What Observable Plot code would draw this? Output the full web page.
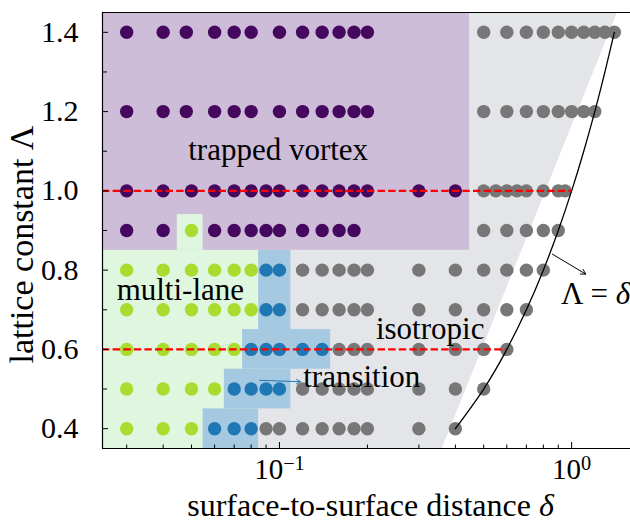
<!DOCTYPE html>
<html><head><meta charset="utf-8">
<script src="https://cdn.jsdelivr.net/npm/d3@7"></script>
<script src="https://cdn.jsdelivr.net/npm/@observablehq/plot@0.6"></script>
<style>
body{margin:0;background:#fff;}
#chart svg{display:block;}
</style>
</head><body><div id="chart"></div>
<script>
const X_MIN = 0.0248, X_MAX = 1.59, Y_MIN = 0.35, Y_MAX = 1.45;

// phase points: [lattice constant Λ, list of δ values]
const vortexRows = [
  [1.4, [0.03,0.04,0.048,0.06,0.07,0.08,0.1,0.12,0.14,0.16,0.18,0.2]],
  [1.2, [0.03,0.04,0.048,0.06,0.07,0.08,0.1,0.12,0.14,0.16,0.18,0.2]],
  [1.0, [0.03,0.04,0.05,0.06,0.07,0.08,0.09,0.1,0.12,0.14,0.16,0.18,0.2,0.3,0.4]],
  [0.9, [0.03,0.04,0.06,0.07,0.08,0.09,0.1,0.12,0.14,0.16,0.18]]
];
const multiLaneRows = [
  [0.9, [0.05]],
  [0.8, [0.03,0.04,0.05,0.06,0.07,0.08]],
  [0.7, [0.03,0.04,0.05,0.06,0.07,0.08]],
  [0.6, [0.03,0.04,0.05,0.06,0.07]],
  [0.5, [0.03,0.04,0.05,0.06]],
  [0.4, [0.03,0.04,0.05]]
];
const transitionRows = [
  [0.8, [0.09,0.1]],
  [0.7, [0.09,0.1]],
  [0.6, [0.08,0.09,0.1,0.12,0.14]],
  [0.5, [0.07,0.08,0.09,0.1]],
  [0.4, [0.06,0.07,0.08]]
];
const isotropicRows = [
  [1.4, [0.5,0.6,0.7,0.8,0.9,1.0,1.1,1.2,1.3,1.4]],
  [1.2, [0.5,0.6,0.7,0.8,0.9,1.0,1.1,1.2]],
  [1.0, [0.5,0.55,0.6,0.65,0.7,0.8,0.9,0.95]],
  [0.9, [0.5,0.6,0.7,0.8,0.9]],
  [0.8, [0.12,0.14,0.16,0.18,0.2,0.3,0.4,0.5,0.6,0.7,0.8]],
  [0.7, [0.12,0.14,0.16,0.18,0.2,0.3,0.4,0.5,0.6,0.7]],
  [0.6, [0.16,0.18,0.2,0.3,0.4,0.5,0.6]],
  [0.5, [0.12,0.14,0.16,0.18,0.2,0.3,0.4,0.5]],
  [0.4, [0.09,0.1,0.12,0.14,0.16,0.18,0.2,0.3,0.4]]
];

// shaded phase regions (δ range, Λ range)
const vortexRegion = [{x1: X_MIN, x2: 0.447, y1: 0.85, y2: Y_MAX}];
const multiLaneRegion = [
  {x1: X_MIN, x2: 0.0849, y1: Y_MIN, y2: 0.85},
  {x1: 0.0447, x2: 0.0548, y1: 0.85, y2: 0.94}
];
const transitionRegion = [
  {x1: 0.0849, x2: 0.1095, y1: 0.65, y2: 0.85},
  {x1: 0.0748, x2: 0.1497, y1: 0.55, y2: 0.65},
  {x1: 0.0648, x2: 0.1095, y1: 0.45, y2: 0.55},
  {x1: 0.0548, x2: 0.0849, y1: Y_MIN, y2: 0.45}
];
const isotropicEdge = [{y: Y_MIN, x: 0.361}, {y: Y_MAX, x: 1.437}];

// Λ = δ line and dashed reference levels
const diagonal = [0.4,0.5,0.6,0.7,0.8,0.9,1.0,1.1,1.2,1.3,1.4];
const dashedLevels = [1.0, 0.6];

// ticks
const xMajor = [0.1, 1];
const xMinor = [0.03,0.04,0.05,0.06,0.07,0.08,0.09,0.2,0.3,0.4,0.5,0.6,0.7,0.8,0.9];
const yMajor = [0.4,0.6,0.8,1.0,1.2,1.4];
const yMinor = [0.5,0.7,0.9,1.1,1.3];

// annotations
const centeredLabels = [
  {text: "trapped vortex", x: 0.099, y: 1.104},
  {text: "multi-lane", x: 0.0458, y: 0.750},
  {text: "isotropic", x: 0.328, y: 0.652},
  {text: "Λ = δ", x: 1.208, y: 0.740}
];
const leftLabels = [
  {text: "transition", x: 0.1206, y: 0.530}
];
const blackArrow = [{x1: 0.859, y1: 0.8405, x2: 1.117, y2: 0.79}];
const blueArrow = [{x1: 0.0856, y1: 0.522, x2: 0.118, y2: 0.5185}];

const COLORS = {
  vortexFill: "#cebdd8", multiFill: "#dff6df", transFill: "#a6c9e2", isoFill: "#e4e5e9",
  vortex: "#46085f", multi: "#a8dc2e", trans: "#1f77b4", iso: "#777777"
};

const toPts = rows => rows.flatMap(([L, ds]) => ds.map(d => ({d, L})));

const FS = 30, AFS = 31, LFS = 33;
const chart = Plot.plot({
  width: 630, height: 523,
  marginTop: 12, marginLeft: 102, marginRight: 0, marginBottom: 75,
  x: {type: "log", domain: [X_MIN, X_MAX]},
  y: {domain: [Y_MIN, Y_MAX]},
  style: {fontFamily: "'Liberation Serif', serif", background: "white", color: "black"},
  marks: [
    Plot.areaX(isotropicEdge, {y: "y", x1: X_MIN, x2: "x", fill: COLORS.isoFill}),
    Plot.rect(multiLaneRegion.slice(0,1), {x1: "x1", x2: "x2", y1: "y1", y2: "y2", fill: COLORS.multiFill}),
    Plot.rect(transitionRegion, {x1: "x1", x2: "x2", y1: "y1", y2: "y2", fill: COLORS.transFill}),
    Plot.rect(vortexRegion, {x1: "x1", x2: "x2", y1: "y1", y2: "y2", fill: COLORS.vortexFill}),
    Plot.rect(multiLaneRegion.slice(1), {x1: "x1", x2: "x2", y1: "y1", y2: "y2", fill: COLORS.multiFill}),
    Plot.dot(toPts(isotropicRows), {x: "d", y: "L", r: 6.7, fill: COLORS.iso}),
    Plot.dot(toPts(vortexRows), {x: "d", y: "L", r: 6.7, fill: COLORS.vortex}),
    Plot.dot(toPts(multiLaneRows), {x: "d", y: "L", r: 6.7, fill: COLORS.multi}),
    Plot.dot(toPts(transitionRows), {x: "d", y: "L", r: 6.7, fill: COLORS.trans}),
    Plot.line(diagonal, {x: d => d, y: d => d, curve: "natural", stroke: "black", strokeWidth: 1.3}),
    Plot.ruleY(dashedLevels, {y: d => d, x1: X_MIN, x2: d => d, stroke: "#ff0000", strokeWidth: 2.2, strokeDasharray: "7.4,3.2"}),
    Plot.arrow(blackArrow, {x1: "x1", y1: "y1", x2: "x2", y2: "y2", stroke: "black", strokeWidth: 1, headLength: 8}),
    Plot.arrow(blueArrow, {x1: "x1", y1: "y1", x2: "x2", y2: "y2", stroke: COLORS.trans, strokeWidth: 1, headLength: 7}),
    Plot.text(centeredLabels, {x: "x", y: "y", text: "text", textAnchor: "middle", fontSize: AFS, fill: "black"}),
    Plot.text(leftLabels, {x: "x", y: "y", text: "text", textAnchor: "start", fontSize: AFS, fill: "black"}),
    Plot.ruleY([Y_MAX], {stroke: "black", strokeWidth: 1.2}),
    Plot.ruleY([Y_MIN], {stroke: "black", strokeWidth: 1.2}),
    Plot.ruleX([X_MIN], {stroke: "black", strokeWidth: 1.2}),
    Plot.axisX(xMajor, {tickSize: -6, tickFormat: () => "", label: null}),
    Plot.axisX(xMinor, {tickSize: -3.5, tickFormat: () => "", label: null}),
    Plot.axisX(xMajor, {tickSize: 0, tickPadding: 10, fontSize: 29, label: null,
      tickFormat: d => "10^" + (d === 1 ? "0" : "−1")}),
    Plot.axisY(yMajor, {tickSize: -6, tickFormat: () => "", label: null}),
    Plot.axisY(yMinor, {tickSize: -5, tickFormat: () => "", label: null}),
    Plot.axisY(yMajor, {tickSize: 0, tickPadding: 24, fontSize: FS, label: null,
      tickFormat: d => d.toFixed(1)}),
    Plot.text(["surface-to-surface distance δ"], {frameAnchor: "bottom", textAnchor: "middle", dx: 4, dy: 67, fontSize: 32, fill: "black"}),
    Plot.text(["lattice constant Λ"], {frameAnchor: "left", textAnchor: "middle", rotate: -90, dx: -80, dy: 14, fontSize: 34, fill: "black"})
  ]
});
document.getElementById("chart").append(chart);

const NS = "http://www.w3.org/2000/svg";
chart.querySelectorAll("text").forEach(t => {
  const s = t.textContent;
  if (s.includes("^")) {
    const [b, e] = s.split("^");
    t.textContent = "";
    const t1 = document.createElementNS(NS, "tspan"); t1.textContent = b;
    const t2 = document.createElementNS(NS, "tspan");
    t2.setAttribute("dy", "-0.45em"); t2.setAttribute("font-size", "0.7em"); t2.textContent = e;
    t.append(t1, t2);
  } else if (s.endsWith("δ") && t.children.length === 0) {
    t.textContent = "";
    const t1 = document.createElementNS(NS, "tspan"); t1.textContent = s.slice(0, -1);
    const t2 = document.createElementNS(NS, "tspan"); t2.setAttribute("font-style", "italic"); t2.textContent = "δ";
    t.append(t1, t2);
  }
});
</script>
</body></html>
